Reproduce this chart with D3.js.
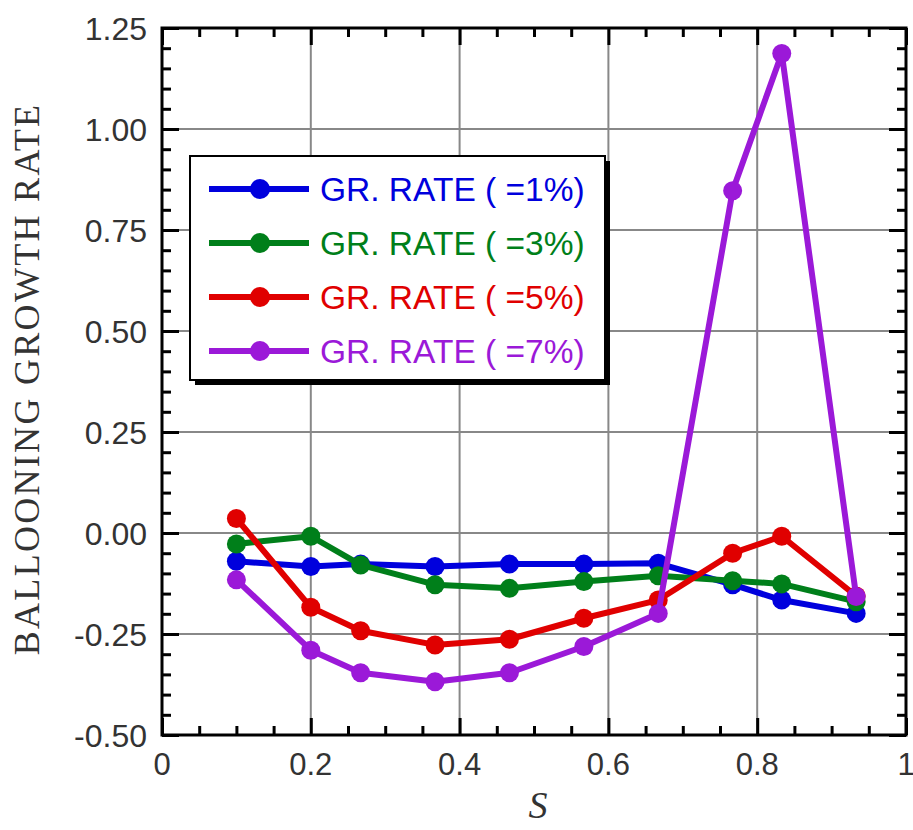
<!DOCTYPE html>
<html>
<head>
<meta charset="utf-8">
<script src="https://cdn.jsdelivr.net/npm/d3@7"></script>
<style>
  body { margin: 0; background: #fff; }
  svg { display: block; }
</style>
</head>
<body>
<div id="chart-area"></div>
<script>
// data
const sValues = [0.1, 0.2, 0.267, 0.367, 0.467, 0.567, 0.667, 0.767, 0.833, 0.933];
const rate1 = [-0.070, -0.083, -0.077, -0.083, -0.077, -0.077, -0.075, -0.128, -0.166, -0.199];
const rate3 = [-0.027, -0.008, -0.079, -0.128, -0.137, -0.120, -0.106, -0.118, -0.126, -0.170];
const rate5 = [0.036, -0.184, -0.242, -0.277, -0.263, -0.211, -0.166, -0.050, -0.008, -0.156];
const rate7 = [-0.116, -0.290, -0.346, -0.368, -0.346, -0.281, -0.199, 0.847, 1.187, -0.157];
const seriesNames = ["GR. RATE ( =1%)", "GR. RATE ( =3%)", "GR. RATE ( =5%)", "GR. RATE ( =7%)"];
const seriesColors = ["#0000dd", "#007f1a", "#e00000", "#9b19d8"];
const xTicks = [0, 0.2, 0.4, 0.6, 0.8, 1];
const yTicks = [-0.5, -0.25, 0, 0.25, 0.5, 0.75, 1.0, 1.25];

const MARGIN = { LEFT: 162, RIGHT: 7, TOP: 28, BOTTOM: 95 };
const W = 913, H = 830;
const WIDTH = W - MARGIN.LEFT - MARGIN.RIGHT;
const HEIGHT = H - MARGIN.TOP - MARGIN.BOTTOM;

const svg = d3.select("#chart-area").append("svg")
  .attr("width", W)
  .attr("height", H);

const g = svg.append("g")
  .attr("transform", `translate(${MARGIN.LEFT}, ${MARGIN.TOP})`);

const x = d3.scaleLinear().domain([0, 1]).range([0, WIDTH]);
const y = d3.scaleLinear().domain([-0.5, 1.25]).range([HEIGHT, 0]);

const xMinor = d3.range(0, 1.0001, 0.05).filter(v => Math.abs(v * 5 - Math.round(v * 5)) > 1e-6);
const yMinor = d3.range(-0.5, 1.2501, 0.05).filter(v => Math.abs(v * 4 - Math.round(v * 4)) > 1e-6);

// grid lines
g.append("g").selectAll("line")
  .data(xTicks.slice(1, -1))
  .enter().append("line")
  .attr("x1", d => x(d)).attr("x2", d => x(d))
  .attr("y1", 0).attr("y2", HEIGHT)
  .attr("stroke", "#888").attr("stroke-width", 2);
g.append("g").selectAll("line")
  .data(yTicks.slice(1, -1))
  .enter().append("line")
  .attr("y1", d => y(d)).attr("y2", d => y(d))
  .attr("x1", 0).attr("x2", WIDTH)
  .attr("stroke", "#888").attr("stroke-width", 2);

// ticks pointing inward on all four sides
function tickAxis(axis, transform) {
  const a = g.append("g").attr("transform", transform).call(axis);
  a.select(".domain").remove();
  a.selectAll(".tick line").attr("stroke", "#000").attr("stroke-width", 3);
  return a;
}
tickAxis(d3.axisBottom(x).tickValues(xTicks).tickSize(-17).tickFormat(""), `translate(0,${HEIGHT})`);
tickAxis(d3.axisBottom(x).tickValues(xMinor).tickSize(-9).tickFormat(""), `translate(0,${HEIGHT})`);
tickAxis(d3.axisTop(x).tickValues(xTicks).tickSize(-17).tickFormat(""), "translate(0,0)");
tickAxis(d3.axisTop(x).tickValues(xMinor).tickSize(-9).tickFormat(""), "translate(0,0)");
tickAxis(d3.axisLeft(y).tickValues(yTicks).tickSize(-17).tickFormat(""), "translate(0,0)");
tickAxis(d3.axisLeft(y).tickValues(yMinor).tickSize(-9).tickFormat(""), "translate(0,0)");
tickAxis(d3.axisRight(y).tickValues(yTicks).tickSize(-17).tickFormat(""), `translate(${WIDTH},0)`);
tickAxis(d3.axisRight(y).tickValues(yMinor).tickSize(-9).tickFormat(""), `translate(${WIDTH},0)`);

// frame
g.append("rect")
  .attr("width", WIDTH).attr("height", HEIGHT)
  .attr("fill", "none").attr("stroke", "#000").attr("stroke-width", 3);

// tick labels (plain hyphen for negatives, like the original)
const fmtY = d => (d < 0 ? "-" : "") + Math.abs(d).toFixed(2);
g.append("g").selectAll("text")
  .data(xTicks)
  .enter().append("text")
  .attr("x", d => x(d))
  .attr("y", HEIGHT + 40)
  .attr("text-anchor", "middle")
  .attr("font-family", "Liberation Sans, Arial, sans-serif")
  .attr("font-size", "31px")
  .attr("fill", "#333")
  .text(d => d === 0 ? "0" : d === 1 ? "1" : d.toFixed(1));

g.append("g").selectAll("text")
  .data(yTicks)
  .enter().append("text")
  .attr("x", -15)
  .attr("y", d => y(d))
  .attr("dy", "0.36em")
  .attr("text-anchor", "end")
  .attr("font-family", "Liberation Sans, Arial, sans-serif")
  .attr("font-size", "32px")
  .attr("fill", "#333")
  .text(fmtY);

// axis labels
g.append("text")
  .attr("transform", `translate(${39 - MARGIN.LEFT}, ${379 - MARGIN.TOP}) rotate(-90)`)
  .attr("text-anchor", "middle")
  .attr("font-family", "Liberation Serif, Times New Roman, serif")
  .attr("font-size", "36px")
  .attr("letter-spacing", "2.3px")
  .attr("fill", "#333")
  .text("BALLOONING GROWTH RATE");

g.append("text")
  .attr("x", 538 - MARGIN.LEFT)
  .attr("y", 818 - MARGIN.TOP)
  .attr("text-anchor", "middle")
  .attr("font-family", "Liberation Serif, Times New Roman, serif")
  .attr("font-style", "italic")
  .attr("font-size", "38px")
  .attr("fill", "#333")
  .text("S");

// series
const allSeries = [rate1, rate3, rate5, rate7];
const line = d3.line().x((d, i) => x(sValues[i])).y(d => y(d));

allSeries.forEach((vals, k) => {
  g.append("path")
    .datum(vals)
    .attr("d", line)
    .attr("fill", "none")
    .attr("stroke", seriesColors[k])
    .attr("stroke-width", 6)
    .attr("stroke-linejoin", "round");
  g.append("g").selectAll("circle")
    .data(vals)
    .enter().append("circle")
    .attr("cx", (d, i) => x(sValues[i]))
    .attr("cy", d => y(d))
    .attr("r", 9.5)
    .attr("fill", seriesColors[k]);
});

// legend
const legend = svg.append("g").attr("transform", "translate(190, 156)");
legend.append("rect")
  .attr("x", 5).attr("y", 5)
  .attr("width", 415).attr("height", 224)
  .attr("fill", "#000");
legend.append("rect")
  .attr("width", 415).attr("height", 224)
  .attr("fill", "#fff").attr("stroke", "#000").attr("stroke-width", 2);

seriesNames.forEach((name, k) => {
  const ry = 33 + k * 54;
  legend.append("line")
    .attr("x1", 19).attr("x2", 119)
    .attr("y1", ry).attr("y2", ry)
    .attr("stroke", seriesColors[k]).attr("stroke-width", 6);
  legend.append("circle")
    .attr("cx", 70).attr("cy", ry).attr("r", 10)
    .attr("fill", seriesColors[k]);
  legend.append("text")
    .attr("x", 130).attr("y", ry)
    .attr("dy", "0.36em")
    .attr("font-family", "Liberation Sans, Arial, sans-serif")
    .attr("font-size", "33.5px")
    .attr("fill", seriesColors[k])
    .text(name);
});
</script>
</body>
</html>
